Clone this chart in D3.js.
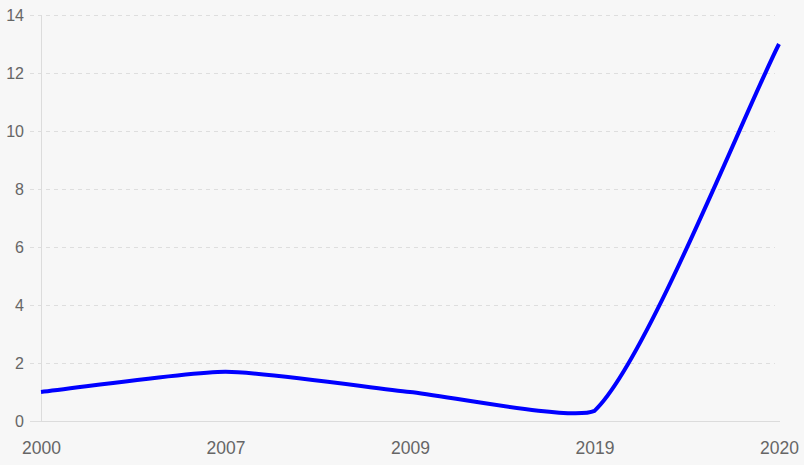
<!DOCTYPE html>
<html><head><meta charset="utf-8">
<script src="https://cdn.jsdelivr.net/npm/d3@7"></script>
<style>html,body{margin:0;padding:0;background:#f7f7f7;}svg{display:block;}</style>
</head><body>
<svg id="c" width="804" height="465"></svg>
<script>
const categories = ["2000","2007","2009","2019","2020"];
const values = [1, 1.7, 1, 0.35, 13];
const yTicks = [0,2,4,6,8,10,12,14];

const W=804,H=465, L=41, R=779, T=15, B=421;
const svg=d3.select("#c");
svg.append("rect").attr("width",W).attr("height",H).attr("fill","#f7f7f7");
const x=d3.scalePoint().domain(categories).range([L,R]);
const y=d3.scaleLinear().domain([0,14]).range([B,T]);
const font="'Liberation Sans', Arial, Helvetica, sans-serif";

// grid
const yAxis=d3.axisLeft(y).tickValues(yTicks).tickSize(0).tickPadding(17);
const gy=svg.append("g").attr("transform",`translate(${L},0)`).call(yAxis);
gy.select(".domain").remove();
gy.selectAll("text").attr("fill","#666").style("font-family",font).style("font-size","16px");
svg.append("g").selectAll("line").data(yTicks.filter(d=>d>0)).join("line")
  .attr("x1",L-11).attr("x2",R-4).attr("y1",d=>y(d)+0.5).attr("y2",d=>y(d)+0.5)
  .attr("stroke","#dedede").attr("stroke-width",1).attr("stroke-dasharray","4,4");
svg.append("line").attr("x1",L-11).attr("x2",L).attr("y1",B+0.5).attr("y2",B+0.5).attr("stroke","#dedede");

// axes lines
svg.append("line").attr("x1",L+0.5).attr("x2",L+0.5).attr("y1",T).attr("y2",B).attr("stroke","#dcdcdc");
svg.append("line").attr("x1",L).attr("x2",R+1).attr("y1",B+0.5).attr("y2",B+0.5).attr("stroke","#dcdcdc");

const xAxis=d3.axisBottom(x).tickSize(0).tickPadding(21);
const gx=svg.append("g").attr("transform",`translate(0,${B})`).call(xAxis);
gx.select(".domain").remove();
gx.selectAll("text").attr("fill","#666").style("font-family",font).style("font-size","17.5px");

// chart.js style spline (low tension, capped to chart area)
const pts=categories.map((c,i)=>({x:x(c),y:y(values[i])}));
const t=0.2;
const cap=(v,a,b)=>Math.max(a,Math.min(b,v));
pts.forEach((p,i)=>{
  const prev=pts[i-1]||p, next=pts[i+1]||p;
  const d01=Math.hypot(p.x-prev.x,p.y-prev.y), d12=Math.hypot(next.x-p.x,next.y-p.y);
  let s01=d01/(d01+d12), s12=d12/(d01+d12);
  if(isNaN(s01))s01=0; if(isNaN(s12))s12=0;
  const fa=t*s01, fb=t*s12;
  p.cpx1=cap(p.x-fa*(next.x-prev.x),L,R); p.cpy1=cap(p.y-fa*(next.y-prev.y),T,B);
  p.cpx2=cap(p.x+fb*(next.x-prev.x),L,R); p.cpy2=cap(p.y+fb*(next.y-prev.y),T,B);
});
const path=d3.path();
path.moveTo(pts[0].x,pts[0].y);
for(let i=1;i<pts.length;i++){
  const a=pts[i-1],b=pts[i];
  path.bezierCurveTo(a.cpx2,a.cpy2,b.cpx1,b.cpy1,b.x,b.y);
}
svg.append("path").attr("d",path.toString()).attr("fill","none").attr("stroke","#0000ff").attr("stroke-width",4);
</script>
</body></html>
